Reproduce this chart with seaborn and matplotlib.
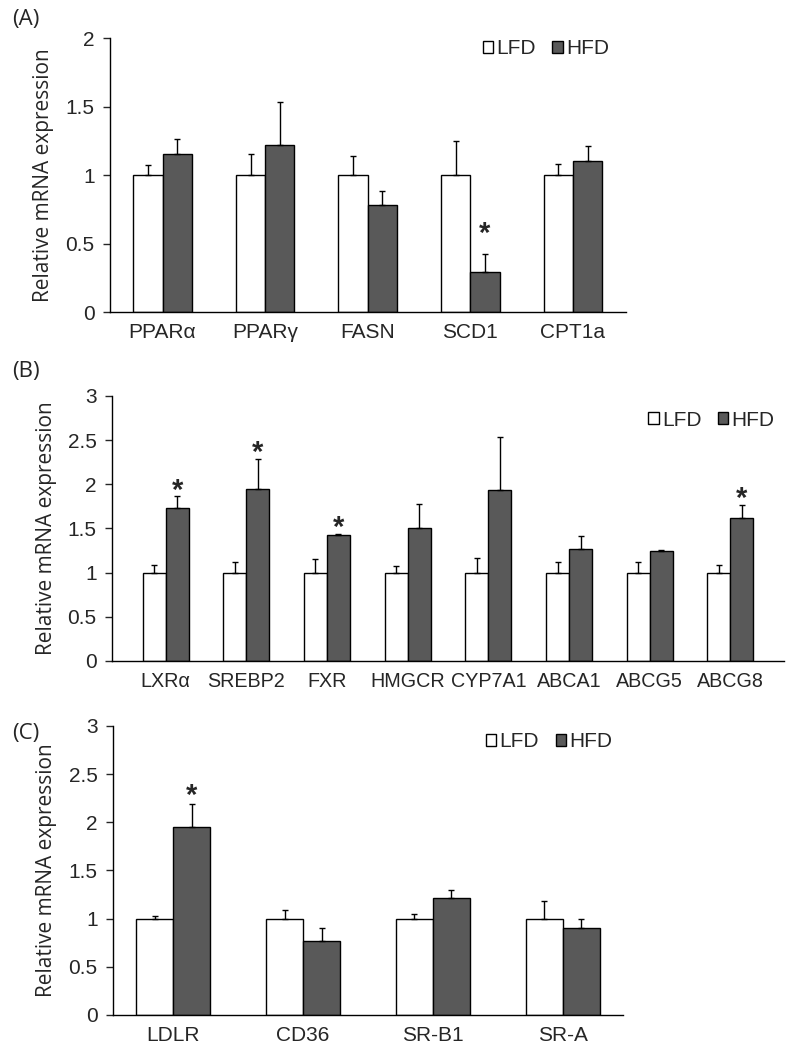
import matplotlib
matplotlib.use("Agg")
import matplotlib.pyplot as plt
import numpy as np
import pandas as pd
import seaborn as sns
from matplotlib.patches import Patch
from matplotlib.ticker import FuncFormatter

# ---------- data ----------
genes_a = ["PPARα", "PPARγ", "FASN", "SCD1", "CPT1a"]
lfd_a = [1.0, 1.0, 1.0, 1.0, 1.0]
lfd_err_a = [0.07, 0.15, 0.14, 0.25, 0.08]
hfd_a = [1.15, 1.22, 0.78, 0.29, 1.10]
hfd_err_a = [0.11, 0.31, 0.10, 0.13, 0.11]
sig_a = [False, False, False, True, False]

genes_b = ["LXRα", "SREBP2", "FXR", "HMGCR", "CYP7A1", "ABCA1", "ABCG5", "ABCG8"]
lfd_b = [1.0, 1.0, 1.0, 1.0, 1.0, 1.0, 1.0, 1.0]
lfd_err_b = [0.09, 0.12, 0.15, 0.08, 0.17, 0.12, 0.12, 0.09]
hfd_b = [1.73, 1.95, 1.43, 1.51, 1.94, 1.27, 1.24, 1.62]
hfd_err_b = [0.135, 0.34, 0.012, 0.27, 0.59, 0.15, 0.015, 0.15]
sig_b = [True, True, True, False, False, False, False, True]

genes_c = ["LDLR", "CD36", "SR-B1", "SR-A"]
lfd_c = [1.0, 1.0, 1.0, 1.0]
lfd_err_c = [0.03, 0.09, 0.05, 0.18]
hfd_c = [1.95, 0.77, 1.21, 0.90]
hfd_err_c = [0.24, 0.13, 0.09, 0.10]
sig_c = [True, False, False, False]

DIETS = ["LFD", "HFD"]
COLORS = {"LFD": "white", "HFD": "#595959"}
FS = 15

sns.set_style("ticks")
plt.rcParams["font.family"] = ["Liberation Sans", "DejaVu Sans"]


def draw_panel(ax, genes, lfd, lfd_err, hfd, hfd_err, sig, ymax, star_pad, legend_xy,
               xlab_size=FS):
    n = len(genes)
    df = pd.DataFrame({
        "gene": genes * 2,
        "diet": ["LFD"] * n + ["HFD"] * n,
        "value": lfd + hfd,
    })
    sns.barplot(data=df, x="gene", y="value", hue="diet", hue_order=DIETS,
                palette=COLORS, edgecolor="black", linewidth=1.0,
                width=0.57, errorbar=None, legend=False, ax=ax)

    # upper-only error bars (SEM)
    for bars, err in zip(ax.containers, [lfd_err, hfd_err]):
        xs = [b.get_x() + b.get_width() / 2 for b in bars]
        hs = [b.get_height() for b in bars]
        ax.errorbar(xs, hs, yerr=[np.zeros(n), err], fmt="none", ecolor="black",
                    elinewidth=1.0, capsize=2.2, capthick=1.0, zorder=3)

    # significance stars above HFD
    hfd_bars = ax.containers[1]
    for b, h, e, s in zip(hfd_bars, hfd, hfd_err, sig):
        if s:
            ax.annotate("*", xy=(b.get_x() + b.get_width() / 2, h + e),
                        xytext=(0, star_pad), textcoords="offset points",
                        ha="center", va="bottom", fontsize=21, fontweight="bold")

    ax.set_ylim(0, ymax)
    ax.set_yticks(np.arange(0, ymax + 0.01, 0.5))
    ax.yaxis.set_major_formatter(FuncFormatter(lambda v, p: f"{v:g}"))
    ax.set_xlabel("")
    ax.set_ylabel("Relative mRNA expression", fontsize=FS, family=["Open Sans", "DejaVu Sans"],
                  labelpad=8)
    ax.tick_params(axis="y", labelsize=FS, length=5, width=1, direction="out", pad=6)
    ax.tick_params(axis="x", labelsize=xlab_size, length=0, pad=8)
    sns.despine(ax=ax)
    for sp in ["left", "bottom"]:
        ax.spines[sp].set_linewidth(1.0)
        ax.spines[sp].set_color("black")

    handles = [Patch(facecolor=COLORS[d], edgecolor="black", linewidth=1.0, label=d) for d in DIETS]
    ax.legend(handles=handles, loc="center left", bbox_to_anchor=legend_xy, ncol=2,
              frameon=False, fontsize=FS, handlelength=0.5, handleheight=0.5,
              handletextpad=0.15, columnspacing=0.8, borderpad=0, borderaxespad=0)


fig = plt.figure(figsize=(7.9, 10.53), dpi=100)
ax_a = fig.add_axes([0.139, 0.7037, 0.653, 0.2602])
ax_b = fig.add_axes([0.1418, 0.3723, 0.8506, 0.2517])
ax_c = fig.add_axes([0.143, 0.0361, 0.6456, 0.2745])

draw_panel(ax_a, genes_a, lfd_a, lfd_err_a, hfd_a, hfd_err_a, sig_a, 2, 5.0, (0.723, 0.96))
draw_panel(ax_b, genes_b, lfd_b, lfd_err_b, hfd_b, hfd_err_b, sig_b, 3, -6, (0.798, 0.909),
           xlab_size=14.2)
draw_panel(ax_c, genes_c, lfd_c, lfd_err_c, hfd_c, hfd_err_c, sig_c, 3, -4, (0.731, 0.945))

for lab, ypix in [("(A)", 20), ("(B)", 372), ("(C)", 733)]:
    fig.text(12 / 790, 1 - ypix / 1053, lab, ha="left", va="center", fontsize=16,
             family=["Open Sans", "DejaVu Sans"])

fig.savefig("out.png", dpi=100)
